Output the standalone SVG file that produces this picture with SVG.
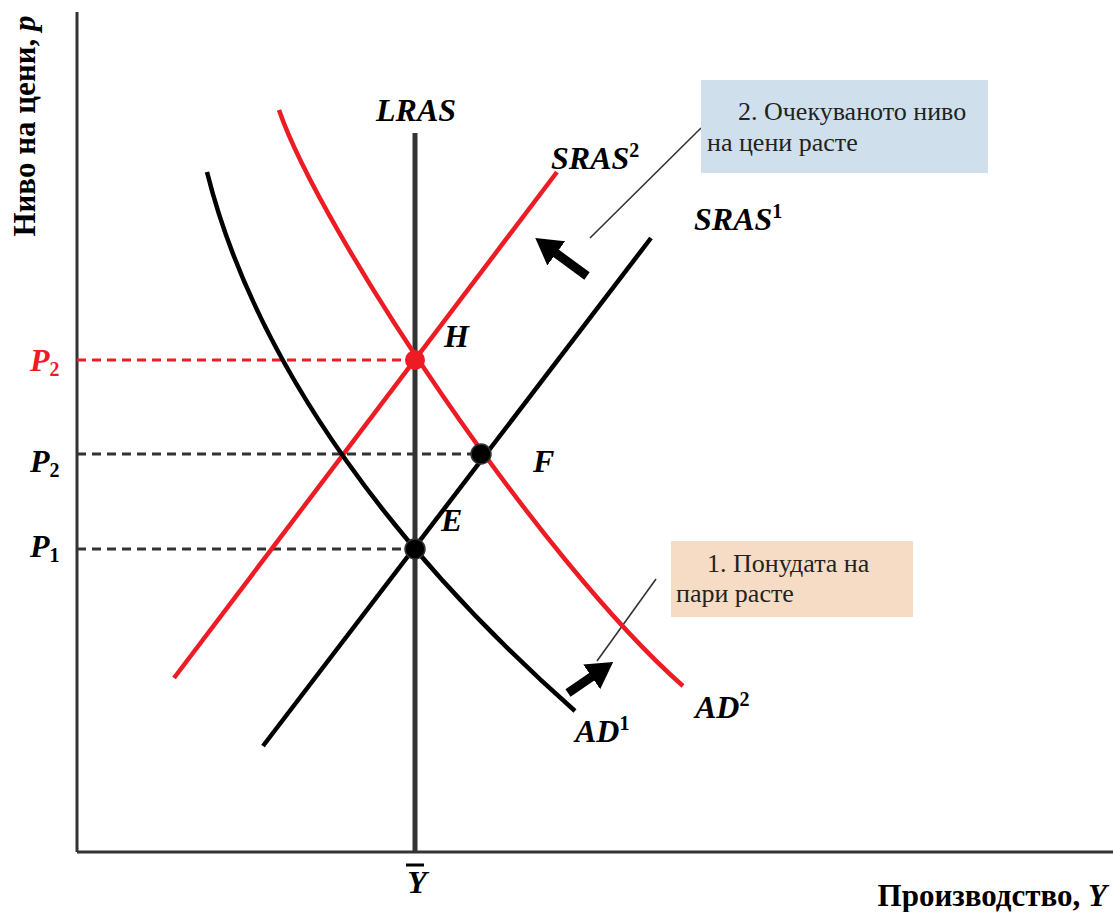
<svg xmlns="http://www.w3.org/2000/svg" width="1113" height="912" viewBox="0 0 1113 912">
<style>
.axis{stroke:#333;stroke-width:3;fill:none}
.lras{stroke:#333;stroke-width:5;fill:none}
.blk{stroke:#000;stroke-width:4.5;fill:none}
.red{stroke:#ed1c24;stroke-width:4.5;fill:none}
.dashk{stroke:#333;stroke-width:3;stroke-dasharray:9,6;fill:none}
.dashr{stroke:#ed1c24;stroke-width:3;stroke-dasharray:9,6;fill:none}
.lead{stroke:#333;stroke-width:1.6;fill:none}
.shift{stroke:#000;stroke-width:9;fill:none}
.lbl{font-family:"Liberation Serif",serif;font-weight:bold;font-style:italic;font-size:32px;fill:#000}
.sup{font-size:20px;font-style:normal}
.note{font-family:"Liberation Serif",serif;font-size:26px;fill:#222}
.ax{font-family:"Liberation Serif",serif;font-weight:bold;font-size:31px;fill:#000}
</style>
<defs>
<marker id="ah" markerUnits="userSpaceOnUse" markerWidth="34" markerHeight="34" refX="4" refY="15" orient="auto">
<path d="M0,0 L26,15 L0,30 Z" fill="#000"/>
</marker>
</defs>
<g id="axes">
<line class="axis" x1="77" y1="12" x2="77" y2="852"/>
<line class="axis" x1="77" y1="852" x2="1113" y2="852"/>
<text class="ax" transform="translate(35,126) rotate(-90)" text-anchor="middle">Ниво на цени, <tspan font-style="italic">p</tspan></text>
<text class="ax" x="1107" y="906" text-anchor="end">Производство, <tspan font-style="italic">Y</tspan></text>
</g>
<g id="connectors">
<line class="dashr" x1="77" y1="360" x2="415" y2="360"/>
<line class="dashk" x1="77" y1="454" x2="481" y2="454"/>
<line class="dashk" x1="77" y1="549" x2="415" y2="549"/>
<line class="lead" x1="590" y1="238" x2="701" y2="128"/>
<line class="lead" x1="656" y1="579" x2="597" y2="661"/>
<line class="shift" x1="587" y1="276" x2="553" y2="251" marker-end="url(#ah)"/>
<line class="shift" x1="568" y1="693" x2="595" y2="674.5" marker-end="url(#ah)"/>
</g>
<g id="lras">
<line class="lras" x1="415" y1="133" x2="415" y2="852"/>
<text class="lbl" x="416" y="121" text-anchor="middle">LRAS</text>
</g>
<g id="sras1">
<line class="blk" x1="263" y1="746" x2="651" y2="238"/>
<text class="lbl" x="694" y="230">SRAS<tspan class="sup" dy="-12">1</tspan></text>
</g>
<g id="sras2">
<line class="red" x1="174" y1="678" x2="557" y2="172"/>
<text class="lbl" x="551" y="169">SRAS<tspan class="sup" dy="-12">2</tspan></text>
</g>
<g id="ad1">
<path class="blk" d="M207,172 C257,372 405,561 575,711"/>
<text class="lbl" x="575" y="742">AD<tspan class="sup" dy="-12">1</tspan></text>
</g>
<g id="ad2">
<path class="red" d="M279,110 C320,230 540,560 683,686"/>
<text class="lbl" x="695" y="718">AD<tspan class="sup" dy="-12">2</tspan></text>
</g>
<g id="pointH">
<circle cx="415" cy="360" r="10" fill="#ed1c24"/>
<text class="lbl" x="444" y="347">H</text>
</g>
<g id="pointF">
<circle cx="481" cy="454" r="10" fill="#000" stroke="#333" stroke-width="1.5"/>
<text class="lbl" x="533" y="472">F</text>
</g>
<g id="pointE">
<circle cx="415" cy="549" r="10" fill="#000" stroke="#333" stroke-width="1.5"/>
<text class="lbl" x="441" y="531">E</text>
</g>
<g id="priceLabels">
<text class="lbl" x="30" y="371" style="fill:#ed1c24">P<tspan class="sup" dy="5">2</tspan></text>
<text class="lbl" x="30" y="472">P<tspan class="sup" dy="5">2</tspan></text>
<text class="lbl" x="30" y="557">P<tspan class="sup" dy="5">1</tspan></text>
</g>
<g id="ybar">
<text class="lbl" x="417" y="893" text-anchor="middle">Y</text>
<line x1="406" y1="865" x2="424" y2="865" stroke="#000" stroke-width="3"/>
</g>
<g id="note2">
<rect x="701" y="80" width="287" height="93" fill="#cfe0ec"/>
<text class="note" x="738" y="120">2. Очекуваното ниво</text>
<text class="note" x="707" y="151">на цени расте</text>
</g>
<g id="note1">
<rect x="671" y="541" width="242" height="76" fill="#f6dcc4"/>
<text class="note" x="707" y="572">1. Понудата на</text>
<text class="note" x="676" y="602">пари расте</text>
</g>
</svg>
